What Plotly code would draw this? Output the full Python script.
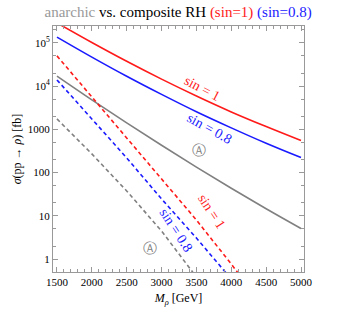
import plotly.graph_objects as go

# Mass points (GeV)
mass = [1500, 2000, 2500, 3000, 3500, 4000, 4500, 5000]
mass_red_dash = [1500, 2000, 2500, 3000, 3500, 4000, 4500]
mass_blue_dash = [1500, 2000, 2500, 3000, 3500, 4000]
mass_gray_dash = [1500, 2000, 2500, 3000, 3500]

# Cross sections sigma(pp -> rho) [fb]
red_solid = [2.90e5, 1.02e5, 3.75e4, 1.45e4, 5.90e3, 2.53e3, 1.16e3, 551]
blue_solid = [1.36e5, 4.69e4, 1.69e4, 6.43e3, 2.55e3, 1.08e3, 476, 222]
gray_solid = [1.70e4, 4.80e3, 1.41e3, 429, 134, 43.4, 14.6, 5.1]
red_dash = [5.0e4, 5.62e3, 632, 75, 8.0, 0.766, 0.066]
blue_dash = [1.39e4, 1.74e3, 218, 24.5, 3.06, 0.344]
gray_dash = [1.74e3, 270, 37.5, 4.45, 0.383]

ytick_vals = [1, 10, 100, 1000, 1e4, 1e5]
ytick_text = ["1", "10", "100", "1000", "10<sup>4</sup>", "10<sup>5</sup>"]
xtick_vals = [1500, 2000, 2500, 3000, 3500, 4000, 4500, 5000]

RED = "#ff1a1a"
BLUE = "#1a1aff"
GRAY = "#808080"
SERIF = "Liberation Serif, Times New Roman, serif"

fig = go.Figure()
for x, y, c, d, shp in [
    (mass, red_solid, RED, "solid", "spline"),
    (mass, blue_solid, BLUE, "solid", "spline"),
    (mass, gray_solid, GRAY, "solid", "spline"),
    (mass_red_dash, red_dash, RED, "4px,3px", "linear"),
    (mass_blue_dash, blue_dash, BLUE, "4px,3px", "linear"),
    (mass_gray_dash, gray_dash, GRAY, "4px,3px", "linear"),
]:
    fig.add_trace(go.Scatter(x=x, y=y, mode="lines", line=dict(color=c, width=1.6, dash=d),
                             line_shape=shp, showlegend=False, hoverinfo="skip"))

# (mass, log10 sigma, text, colour, angle)
annots = [
    (3586, 3.94, "sin = 1", RED, 28),
    (3686, 3.01, "sin = 0.8", BLUE, 29),
    (3543, 2.52, "Ⓐ", GRAY, 0),
    (3714, 1.09, "sin = 1", RED, 57),
    (3214, 0.67, "sin = 0.8", BLUE, 57),
    (2829, 0.25, "Ⓐ", GRAY, 0),
]
for x, y, t, c, a in annots:
    fig.add_annotation(x=x, y=y, text=t, showarrow=False, textangle=a,
                       font=dict(family=SERIF, size=14, color=c))

axis_common = dict(showline=True, linecolor="#999999", linewidth=1, mirror="allticks",
                   ticks="inside", tickcolor="#999999", ticklen=5, showgrid=False,
                   zeroline=False, tickfont=dict(family=SERIF, size=11, color="black"))

fig.update_xaxes(range=[1443, 5043], tickvals=xtick_vals,
                 minor=dict(ticks="inside", ticklen=3, tickcolor="#999999", dtick=100),
                 title=dict(text="<i>M</i><sub><i>ρ</i></sub> [GeV]",
                            font=dict(family=SERIF, size=12, color="black"), standoff=6),
                 **axis_common)
fig.update_yaxes(type="log", range=[-0.3, 5.39], tickvals=ytick_vals, ticktext=ytick_text,
                 minor=dict(ticks="inside", ticklen=3, tickcolor="#999999"),
                 title=dict(text="<i>σ</i>(pp → <i>ρ</i>) [fb]",
                            font=dict(family=SERIF, size=12, color="black"), standoff=3),
                 **axis_common)

fig.update_layout(
    width=340, height=318,
    margin=dict(l=53, r=36, t=26, b=46),
    paper_bgcolor="white", plot_bgcolor="white",
    title=dict(text="<span style='color:#999999'>anarchic</span> vs. composite RH "
                    "<span style='color:#ff1a1a'>(sin=1)</span> "
                    "<span style='color:#1a1aff'>(sin=0.8)</span>",
               x=0.524, xanchor="center", y=0.962, yanchor="middle",
               font=dict(family=SERIF, size=15, color="black")),
)

fig.write_html("out.html", config={"displayModeBar": False},
               post_script="document.body.style.margin='0px';")
